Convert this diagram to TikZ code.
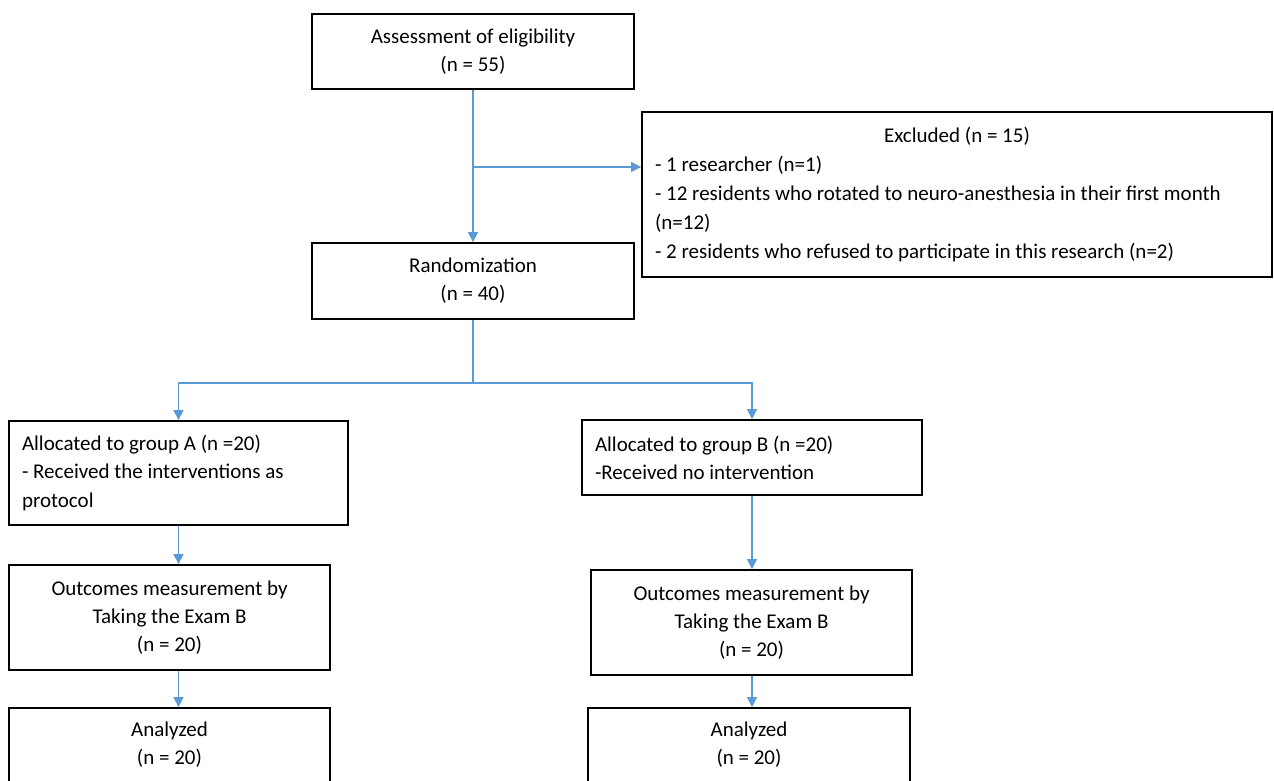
\documentclass[tikz,border=0pt]{standalone}
\usepackage{fontspec}
\setmainfont{Carlito}
\usetikzlibrary{arrows.meta}
\definecolor{arrowblue}{RGB}{91,155,213}
\newcommand\resetsp{\spaceskip=0pt\xspaceskip=0pt\relax}
\begin{document}
\begin{tikzpicture}[x=1pt,y=-1pt,
  box/.style={draw=black, line width=1.8pt, rectangle, inner xsep=13pt, inner ysep=0pt,
    font=\fontsize{21}{28}\selectfont, align=center},
  lbox/.style={box, align=left},
  conn/.style={draw=arrowblue, line width=1.3pt},
  arr/.style={conn, -{Triangle[length=10pt,width=10pt]}}]
\useasboundingbox (0,0) rectangle (1274,780);
\clip (0,0) rectangle (1274,780);
\fill[white] (0,0) rectangle (1274,780);

\node[box, minimum width=322pt, minimum height=75pt] (assess) at (473,51.5)
  {\resetsp Assessment of eligibility\\(n = 55)};
\node[box, minimum width=322pt, minimum height=76pt] (rand) at (473,281)
  {\resetsp Randomization\\(n = 40)};
\node[lbox, text width=604pt, minimum height=165pt, font=\fontsize{21}{29}\selectfont] (excl) at (957,194.5)
  {\resetsp\makebox[\linewidth]{Excluded (n = 15)}\\
   - 1 researcher (n=1)\\
   - 12 residents who rotated to neuro-anesthesia in their first month\\
   (n=12)\\
   - 2 residents who refused to participate in this research (n=2)};

\node[lbox, text width=313pt, minimum height=104pt, font=\fontsize{21}{28.5}\selectfont] (ga) at (178.5,473)
  {\resetsp Allocated to group A (n =20)\\- Received the interventions as\\protocol};
\node[lbox, text width=314pt, minimum height=75pt] (gb) at (752,457.5)
  {\resetsp Allocated to group B (n =20)\\-Received no intervention};

\node[box, minimum width=321pt, minimum height=105pt] (oa) at (169.5,617.5)
  {\resetsp Outcomes measurement by\\Taking the Exam B\\(n = 20)};
\node[box, minimum width=321pt, minimum height=105pt] (ob) at (751.5,622.5)
  {\resetsp Outcomes measurement by\\Taking the Exam B\\(n = 20)};

\node[box, minimum width=321pt, minimum height=74pt] (aa) at (169.5,745)
  {\resetsp Analyzed\\(n = 20)};
\node[box, minimum width=322pt, minimum height=74pt] (ab) at (749,745)
  {\resetsp Analyzed\\(n = 20)};

\coordinate (j1) at (473,167);
\coordinate (split) at (473,383);

\draw[arr] (assess.south) -- (rand.north);
\draw[arr] (j1) -- (j1 -| excl.west);
\draw[conn] (rand.south) -- (split);
\draw[arr] (split) -| (ga.north);
\draw[arr] (split) -| (gb.north);
\draw[arr] (ga.south) -- (ga.south |- oa.north);
\draw[arr] (ga.south |- oa.south) -- (ga.south |- aa.north);
\draw[arr] (gb.south) -- (gb.south |- ob.north);
\draw[arr] (gb.south |- ob.south) -- (gb.south |- ab.north);
\end{tikzpicture}
\end{document}
